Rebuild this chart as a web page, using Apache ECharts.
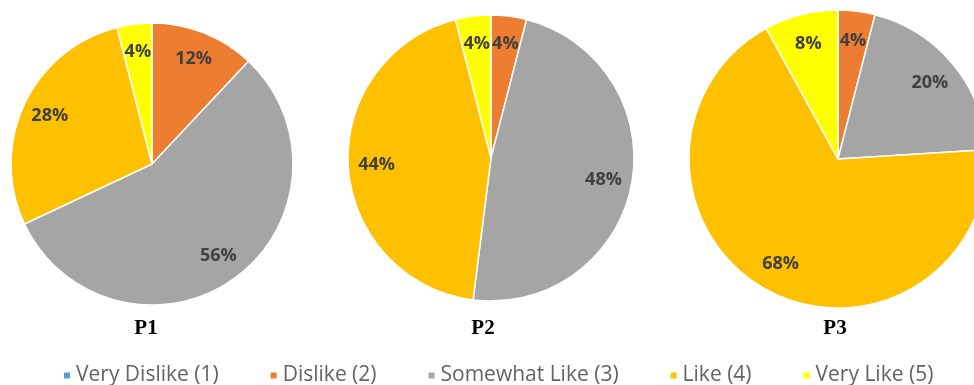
<!DOCTYPE html>
<html>
<head>
<meta charset="utf-8">
<script src="https://cdn.jsdelivr.net/npm/echarts@6/dist/echarts.min.js"></script>
<style>
  html, body { margin: 0; padding: 0; background: #ffffff; }
  #chart { width: 974px; height: 385px; }
</style>
</head>
<body>
<div id="chart"></div>
<script>
// Survey answers per panel, in percent
const categories = ['Very Dislike (1)', 'Dislike (2)', 'Somewhat Like (3)', 'Like (4)', 'Very Like (5)'];
const p1Values = [0, 12, 56, 28, 4];
const p2Values = [0, 4, 48, 44, 4];
const p3Values = [0, 4, 20, 68, 8];
const panelTitles = ['P1', 'P2', 'P3'];

const palette = ['#5B9BD5', '#ED7D31', '#A5A5A5', '#FFC000', '#FFFF00'];

// Pie geometry per panel: centre and outer radius in pixels
const panels = [
  { values: p1Values, center: [152, 164], r: 141 },
  { values: p2Values, center: [491, 158], r: 143 },
  { values: p3Values, center: [838, 159], r: 149 }
];
const titleX = [141, 478, 830];

const toData = vals => vals.map((v, i) => ({ name: categories[i], value: v }));

const series = [];
panels.forEach(p => {
  // visible slices
  series.push({
    type: 'pie',
    center: p.center,
    radius: [0, p.r],
    startAngle: 90,
    clockwise: true,
    color: palette,
    itemStyle: { borderColor: '#ffffff', borderWidth: 1.5 },
    label: { show: false },
    labelLine: { show: false },
    emphasis: { disabled: true },
    silent: true,
    data: toData(p.values)
  });
  // ring carrying the percentage labels, placed toward the rim
  series.push({
    type: 'pie',
    center: p.center,
    radius: [p.r * 0.56, p.r],
    startAngle: 90,
    clockwise: true,
    itemStyle: { color: 'rgba(0,0,0,0)' },
    label: {
      show: true,
      position: 'inside',
      formatter: d => (d.value ? d.value + '%' : ''),
      color: '#404040',
      fontWeight: 'bold',
      fontSize: 18,
      fontFamily: 'Open Sans'
    },
    labelLine: { show: false },
    emphasis: { disabled: true },
    silent: true,
    data: toData(p.values)
  });
});

const chart = echarts.init(document.getElementById('chart'), null, { renderer: 'canvas' });
chart.setOption({
  backgroundColor: '#ffffff',
  animation: false,
  title: panelTitles.map((t, i) => ({
    text: t,
    left: titleX[i],
    top: 313,
    textAlign: 'center',
    textStyle: { fontFamily: 'Liberation Serif', fontWeight: 'bold', fontSize: 21, color: '#000000' }
  })),
  legend: {
    data: categories.map((c, i) => ({ name: c, itemStyle: { color: palette[i] } })),
    top: 360,
    left: 57,
    icon: 'rect',
    itemWidth: 8,
    itemHeight: 8,
    itemGap: 50,
    selectedMode: false,
    textStyle: { fontFamily: 'Open Sans', fontSize: 21, color: '#636363' }
  },
  series: series
});
</script>
</body>
</html>
